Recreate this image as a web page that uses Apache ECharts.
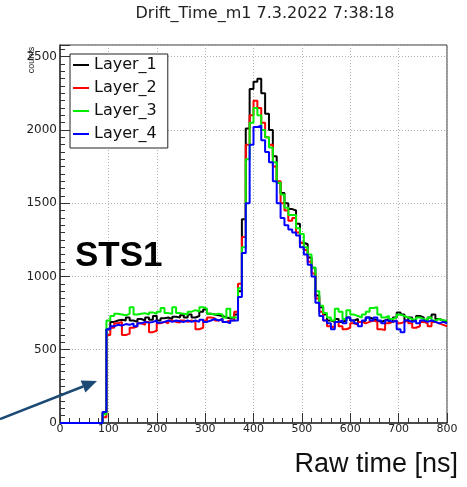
<!DOCTYPE html>
<html>
<head>
<meta charset="utf-8">
<script src="https://cdn.jsdelivr.net/npm/echarts@6/dist/echarts.min.js"></script>
<style>html,body{margin:0;padding:0;background:#fff}#c{width:467px;height:487px}</style>
</head>
<body>
<div id="c"></div>
<script>
// ---- data ----
const binWidth = 8;          // ns per bin
const xMin = 0, xMax = 800;
const yMax = 2580;
const seriesNames = ['Layer_1', 'Layer_2', 'Layer_3', 'Layer_4'];
const seriesColors = ['#000000', '#ff0000', '#00ee00', '#0000ff'];
const xTickLabels = [0, 100, 200, 300, 400, 500, 600, 700, 800];
const yTickLabels = [0, 500, 1000, 1500, 2000, 2500];

const layer1 = [0,0,0,0,0,0,0,0,0,0,0,70,
  640,690,700,705,700,720,700,690,710,700,720,705,730,700,715,720,710,725,720,735,720,740,720,730,760,775,745,740,735,730,720,715,720,
  740,900,1390,2010,2280,2330,2350,2250,2110,2000,1820,1640,1570,1500,1460,1450,1360,1230,1220,1130,1060,870,790,740,
  700,690,710,690,700,720,700,710,690,700,720,710,700,690,700,710,690,720,755,740,700,720,695,730,720,700,720,740,710,700,690];
const layer2 = [0,0,0,0,0,0,0,0,0,0,0,40,
  600,650,680,690,600,610,650,660,680,670,690,620,630,680,690,680,700,690,685,700,690,700,690,640,650,700,720,715,700,710,690,700,700,
  760,950,1270,1900,2100,2200,2150,2050,1950,1900,1750,1650,1500,1450,1380,1400,1300,1230,1180,1100,1020,850,760,700,
  660,650,690,660,640,650,680,670,690,680,690,700,690,640,635,680,690,700,680,690,700,680,650,660,690,680,660,690,680,670,660];
const layer3 = [0,0,0,0,0,0,0,0,0,0,0,60,
  700,730,745,740,735,745,790,740,745,750,740,755,745,760,785,750,745,790,750,745,740,760,770,760,790,780,745,740,745,740,720,780,720,
  720,920,1200,1800,2050,2150,2100,2000,1950,1880,1780,1640,1560,1470,1420,1420,1330,1290,1200,1150,1060,900,800,750,
  720,700,780,760,710,770,740,730,720,740,760,785,790,740,720,730,710,720,740,730,720,710,700,720,710,700,720,700,710,700,700];
const layer4 = [0,0,0,0,0,0,0,0,0,0,0,75,
  640,660,670,665,675,670,680,660,680,690,685,690,700,685,690,700,690,700,695,690,700,690,700,690,705,690,700,710,700,710,690,680,700,
  700,860,1160,1500,1900,2020,2030,1930,1850,1780,1650,1500,1400,1350,1320,1300,1280,1200,1150,1080,1000,820,730,700,
  680,640,690,700,680,720,700,680,660,700,720,700,720,700,680,700,690,700,640,620,700,690,700,680,700,690,700,690,680,690,680];
const layers = [layer1, layer2, layer3, layer4];

function histPoints(vals) {
  const pts = vals.map((v, i) => [xMin + i * binWidth, v]);
  pts.push([xMin + vals.length * binWidth, vals[vals.length - 1]]);
  return pts;
}

const rootFont = '"DejaVu Sans", sans-serif';
const chart = echarts.init(document.getElementById('c'), null, {renderer: 'canvas'});

const series = layers.map((vals, k) => ({
  name: seriesNames[k],
  type: 'line',
  step: 'end',
  xAxisIndex: 0,
  yAxisIndex: 1,
  symbol: 'none',
  data: histPoints(vals),
  lineStyle: {color: seriesColors[k], width: 2},
  itemStyle: {color: seriesColors[k]},
  emphasis: {disabled: true},
  z: 3 + k
}));

// arrow geometry (annotation)
const tip = [97, 381], tail = [0, 419];
const dx = tip[0] - tail[0], dy = tip[1] - tail[1];
const L = Math.hypot(dx, dy), ux = dx / L, uy = dy / L;
const headLen = 15, headHalf = 6.5;
const bx = tip[0] - ux * headLen, by = tip[1] - uy * headLen;

chart.setOption({
  animation: false,
  backgroundColor: '#fff',
  grid: {left: 60, right: 20, top: 45, bottom: 64, show: true, borderColor: '#333', borderWidth: 1, outerBoundsMode: 'none'},
  legend: {
    data: seriesNames,
    orient: 'vertical',
    left: 70, top: 54,
    padding: [2, 11, 5, 3],
    itemGap: 5,
    itemWidth: 16, itemHeight: 2,
    icon: 'rect',
    selectedMode: false,
    backgroundColor: '#fff',
    borderColor: '#222', borderWidth: 1,
    borderRadius: 0,
    textStyle: {fontFamily: rootFont, fontSize: 16, color: '#111', lineHeight: 18},
    z: 10
  },
  xAxis: [{
    type: 'value', min: xMin, max: xMax, interval: 100, position: 'bottom',
    axisLine: {show: true, lineStyle: {color: '#333', width: 1.5}},
    axisTick: {show: true, inside: true, length: 10, lineStyle: {color: '#333', width: 1}},
    minorTick: {show: true, splitNumber: 5, length: 5, lineStyle: {color: '#333', width: 1}},
    axisLabel: {show: true, margin: 1, fontFamily: rootFont, fontSize: 11, color: '#222',
      formatter: v => xTickLabels.includes(v) ? String(v) : ''},
    splitLine: {show: true, lineStyle: {color: '#b0b0b0', type: [1, 2], width: 1}}
  }],
  yAxis: [{
    // minor ticks (every 50)
    type: 'value', min: 0, max: yMax, interval: 50, position: 'left',
    axisLine: {show: false},
    axisTick: {show: true, inside: true, length: 5, lineStyle: {color: '#333', width: 1}},
    axisLabel: {show: false},
    splitLine: {show: false}
  }, {
    type: 'value', min: 0, max: yMax, interval: 500, position: 'left', offset: 0,
    axisLine: {show: true, lineStyle: {color: '#333', width: 1.5}},
    axisTick: {show: true, inside: true, length: 10, lineStyle: {color: '#333', width: 1}},
    axisLabel: {show: true, margin: 3, fontFamily: rootFont, fontSize: 12, color: '#222',
      formatter: v => yTickLabels.includes(v) ? String(v) : ''},
    splitLine: {show: true, lineStyle: {color: '#b0b0b0', type: [1, 2], width: 1}}
  }],
  series: series,
  graphic: [
    {type: 'text', x: 265, y: 14, style: {text: 'Drift_Time_m1 7.3.2022 7:38:18', font: '16px "DejaVu Sans", sans-serif', fill: '#222', align: 'center', verticalAlign: 'middle'}, z: 20},
    {type: 'text', x: 32, y: 60, rotation: Math.PI / 2, style: {text: 'counts', font: '9px "Liberation Sans", Arial, sans-serif', fill: '#222', align: 'center', verticalAlign: 'middle'}, z: 20},
    {type: 'text', x: 75, y: 256, style: {text: 'STS1', font: 'bold 35px "Liberation Sans", Arial, sans-serif', fill: '#000', align: 'left', verticalAlign: 'middle'}, z: 20},
    {type: 'text', x: 458, y: 465, style: {text: 'Raw time [ns]', font: '27px "Liberation Sans", Arial, sans-serif', fill: '#111', align: 'right', verticalAlign: 'middle'}, z: 20},
    {type: 'line', shape: {x1: tail[0], y1: tail[1], x2: bx, y2: by}, style: {stroke: '#1c4a74', lineWidth: 2.5}, z: 20},
    {type: 'polygon', shape: {points: [tip, [bx - uy * headHalf, by + ux * headHalf], [bx + uy * headHalf, by - ux * headHalf]]}, style: {fill: '#1c4a74'}, z: 20}
  ]
});
</script>
</body>
</html>
